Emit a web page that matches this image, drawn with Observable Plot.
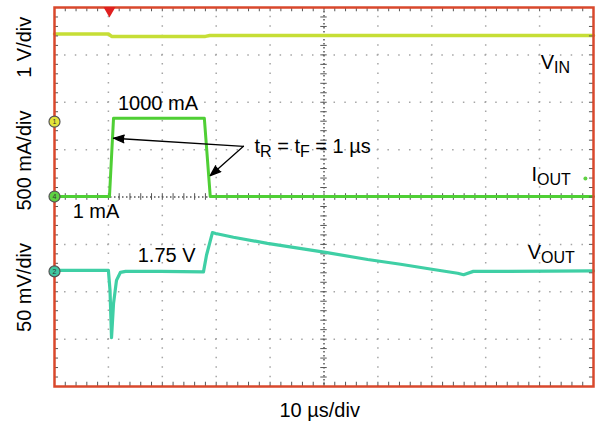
<!DOCTYPE html>
<html><head><meta charset="utf-8">
<script src="https://cdn.jsdelivr.net/npm/d3@7"></script>
<script src="https://cdn.jsdelivr.net/npm/@observablehq/plot@0.6"></script>
<style>
html,body{margin:0;padding:0;background:#fff;}
#chart svg{display:block;}
</style></head><body><div id="chart"></div>
<script>
// x: time in µs (10 µs/div); y: screen level in divisions from the bottom (0..8)
const vinT = [0, 10.0, 10.6, 28.0, 28.8, 100];
const vinY = [7.44, 7.44, 7.39, 7.39, 7.41, 7.41];
const ioutT = [0, 10.2, 10.95, 27.8, 28.9, 100];
const ioutY = [4.01, 4.01, 5.66, 5.66, 4.01, 4.01];
const voutT = [0, 10.0, 10.3, 10.58, 10.95, 11.5, 12.24, 13.2, 19.7, 27.64, 28.2, 29.3, 29.9, 33.2, 39.5, 50.3, 58.1, 64.2, 70.3, 74.8, 75.9, 77.7, 82.7, 100];
const voutY = [2.45, 2.45, 2.03, 1.03, 1.75, 2.24, 2.41, 2.43, 2.43, 2.42, 2.77, 3.25, 3.23, 3.15, 3.02, 2.83, 2.68, 2.58, 2.47, 2.39, 2.36, 2.43, 2.43, 2.44];

const majorT = [10, 20, 30, 40, 60, 70, 80, 90];
const majorY = [1, 2, 3, 5, 6, 7];
const minorT = d3.range(0, 101, 2);
const minorY = d3.range(0, 41).map(i => i / 5);

const axisLabels = ["1 V/div", "500 mA/div", "50 mV/div"];
const axisLabelY = [7.16, 4.77, 2.09];
const xLabel = "10 µs/div";

const noteText = ["1000 mA", "1 mA", "1.75 V"];
const noteT = [19.2, 7.7, 20.8];
const noteY = [5.84, 3.55, 2.62];

const chanText = ["V_{IN}", "I_{OUT}", "V_{OUT}"];
const chanT = [90.2, 88.5, 87.8];
const chanY = [6.71, 4.33, 2.70];

const rtText = ["t_{R} = t_{F} = 1 µs"];
const rtT = [37.1];
const rtY = [4.92];

const arrowTailT = [35.06, 35.06];
const arrowTailY = [5.07, 5.07];
const arrowHeadT = [10.95, 28.9];
const arrowHeadY = [5.24, 4.45];

const markerLabel = ["1", "4", "2"];
const markerY = [5.59, 4.01, 2.43];
const markerFill = ["#e3e33a", "#5fd143", "#3fc8a0"];

const trigT = [10.2];

const pts = (T, Y) => T.map((t, i) => ({t, v: Y[i]}));
const vin = pts(vinT, vinY), iout = pts(ioutT, ioutY), vout = pts(voutT, voutY);

function subRender(index, scales, values, dims, ctx, next) {
  const g = next(index, scales, values, dims, ctx);
  g.querySelectorAll("text").forEach(t => {
    const s = t.textContent;
    if (!s.includes("_{")) return;
    t.textContent = "";
    let shifted = false;
    for (const p of s.split(/(_\{[^}]*\})/)) {
      if (!p) continue;
      const ts = document.createElementNS("http://www.w3.org/2000/svg", "tspan");
      if (p.startsWith("_{")) {
        ts.textContent = p.slice(2, -1);
        ts.setAttribute("font-size", "16");
        ts.setAttribute("dy", "4");
        shifted = true;
      } else {
        ts.textContent = p;
        if (shifted) { ts.setAttribute("dy", "-4"); shifted = false; }
      }
      t.appendChild(ts);
    }
  });
  return g;
}

const red = "#d9482c";
const tickC = "#555";

const chart = Plot.plot({
  width: 597, height: 425,
  marginTop: 7, marginRight: 4, marginBottom: 39, marginLeft: 54,
  x: {domain: [0, 100], axis: null},
  y: {domain: [0, 8], axis: null},
  style: {fontFamily: "'Liberation Sans', Arial, sans-serif", fontSize: "20px", background: "white", color: "black"},
  marks: [
    Plot.ruleX(majorT, {x: d => d, stroke: "#a5a5a5", strokeWidth: 1.5, strokeDasharray: "1.5,7.975", strokeDashoffset: 0.75}),
    Plot.ruleY(majorY, {y: d => d, stroke: "#a5a5a5", strokeWidth: 1.5, strokeDasharray: "1.5,9.28", strokeDashoffset: 0.75}),
    Plot.ruleX([50], {x: d => d, stroke: "#555", strokeWidth: 1.5, strokeDasharray: "1.5,2.5"}),
    Plot.ruleY([4], {y: d => d, stroke: "#555", strokeWidth: 1.5, strokeDasharray: "1.5,2.5"}),
    Plot.ruleY(minorY, {y: d => d, x1: 49.4, x2: 50.6, stroke: tickC, strokeWidth: 1}),
    Plot.ruleX(minorT, {x: d => d, y1: 3.93, y2: 4.07, stroke: tickC, strokeWidth: 1}),
    Plot.line(vin, {x: "t", y: "v", stroke: "#c6de36", strokeWidth: 3.5}),
    Plot.line(iout, {x: "t", y: "v", stroke: "#4fcf35", strokeWidth: 3}),
    Plot.line(vout, {x: "t", y: "v", stroke: "#3fcfa5", strokeWidth: 3.2}),
    Plot.ruleX(minorT, {x: d => d, y1: 8, y2: 7.91, stroke: tickC, strokeWidth: 1}),
    Plot.ruleX(minorT, {x: d => d, y1: 0, y2: 0.09, stroke: tickC, strokeWidth: 1}),
    Plot.ruleY(minorY, {y: d => d, x1: 0, x2: 0.75, stroke: tickC, strokeWidth: 1}),
    Plot.ruleY(minorY, {y: d => d, x1: 100, x2: 99.25, stroke: tickC, strokeWidth: 1}),
    Plot.frame({stroke: red, strokeWidth: 2.5}),
    Plot.dot(trigT, {x: d => d, y: 8, symbol: "triangle", rotate: 180, fill: "#e02020", r: 4.5, dy: 3}),
    Plot.dot(markerY, {x: 0, y: d => d, r: 5.5, fill: (d, i) => markerFill[i], stroke: "#555", strokeWidth: 1.2}),
    Plot.text(markerY, {x: 0, y: d => d, text: (d, i) => markerLabel[i], fontSize: 7, fill: "#333"}),
    Plot.dot([4.39], {x: 98.5, y: d => d, r: 2, fill: "#5fd143"}),
    Plot.arrow(arrowHeadT, {x1: (d, i) => arrowTailT[i], y1: (d, i) => arrowTailY[i], x2: d => d, y2: (d, i) => arrowHeadY[i],
      stroke: "black", fill: "black", strokeWidth: 1.3, headLength: 13, headAngle: 40}),
    Plot.text(noteText, {x: (d, i) => noteT[i], y: (d, i) => noteY[i], text: d => d, textAnchor: "middle", lineAnchor: "bottom", fontSize: 20}),
    Plot.text(chanText, {x: (d, i) => chanT[i], y: (d, i) => chanY[i], text: d => d, textAnchor: "start", lineAnchor: "bottom", fontSize: 20, render: subRender}),
    Plot.text(rtText, {x: (d, i) => rtT[i], y: (d, i) => rtY[i], text: d => d, textAnchor: "start", lineAnchor: "bottom", fontSize: 20, render: subRender}),
    Plot.text(axisLabels, {y: (d, i) => axisLabelY[i], text: d => d, frameAnchor: "left", dx: -30, rotate: -90, textAnchor: "middle", lineAnchor: "middle", fontSize: 20}),
    Plot.text([xLabel], {x: 49.2, text: d => d, frameAnchor: "bottom", dy: 30, textAnchor: "middle", lineAnchor: "bottom", fontSize: 20})
  ]
});
document.getElementById("chart").appendChild(chart);
</script>
</body></html>
